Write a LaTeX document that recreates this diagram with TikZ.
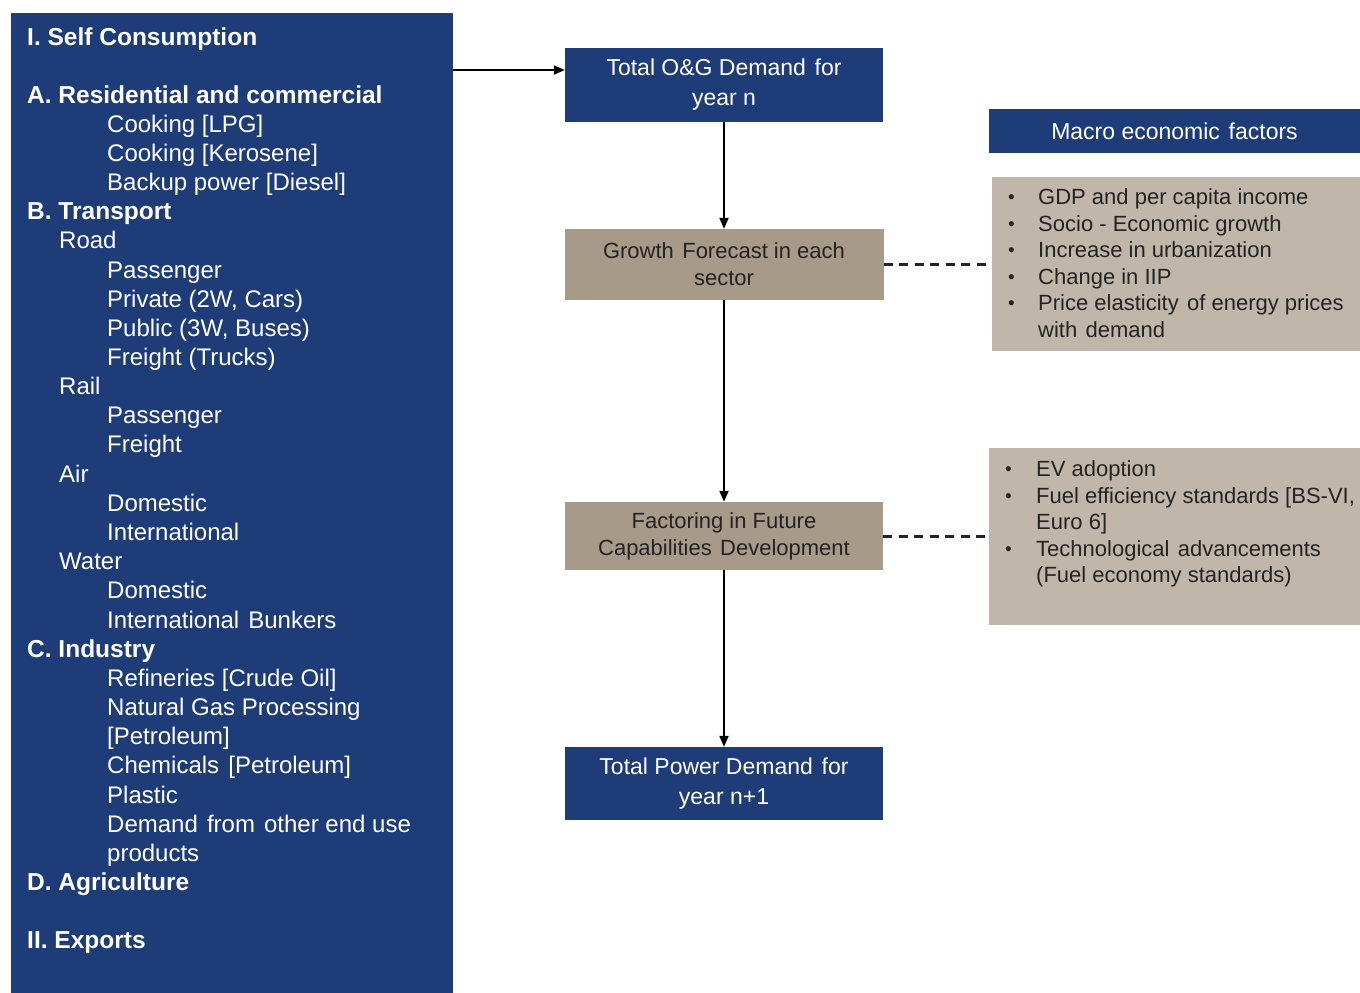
\documentclass[tikz,border=0pt]{standalone}
\usepackage{fontspec}
\setmainfont{Liberation Sans}
\usetikzlibrary{arrows.meta}
\definecolor{navy}{RGB}{30,60,120}
\definecolor{tandark}{RGB}{168,154,136}
\definecolor{tanlight}{RGB}{192,183,170}
\definecolor{ink}{RGB}{35,35,35}
\newcommand{\wsp}{\hspace{0.38em}}
\tikzset{
  panel/.style={draw=none, fill=navy, inner sep=0pt},
  bluebox/.style={draw=none, fill=navy, text=white, inner sep=0pt, align=center,
    font=\fontsize{23}{30}\selectfont},
  tanbox/.style={draw=none, fill=tandark, text=ink, inner sep=0pt, align=center,
    font=\fontsize{22}{27}\selectfont},
  listbox/.style={draw=none, fill=tanlight, inner sep=0pt},
  ltxt/.style={anchor=base west, inner sep=0pt, text=white, font=\fontsize{24}{29}\selectfont},
  lbold/.style={ltxt, font=\fontsize{24.5}{29}\selectfont\bfseries},
  rtxt/.style={anchor=base west, inner sep=0pt, text=ink, font=\fontsize{22}{26}\selectfont},
  bul/.style={rtxt, font=\fontsize{19}{22}\selectfont},
  flow/.style={line width=2pt, -{Triangle[length=11pt,width=9pt]}},
  dashlink/.style={line width=3pt, dash pattern=on 9pt off 6.5pt, draw=ink}
}
\begin{document}
\begin{tikzpicture}[x=1pt,y=-1pt]
\useasboundingbox (0,0) rectangle (1360,993);
\fill[white] (0,0) rectangle (1360,993);

% left panel
\node[panel, minimum width=442pt, minimum height=980pt] (left) at (232,503) {};

\foreach \t/\x/\y [count=\i] in {
  {Cooking [LPG]}/107/124, {Cooking [Kerosene]}/107/153, {Backup power [Diesel]}/107/182,
  {Road}/59/240, {Passenger}/107/270, {Private (2W, Cars)}/107/299, {Public (3W, Buses)}/107/328,
  {Freight (Trucks)}/107/357, {Rail}/59/386, {Passenger}/107/415, {Freight}/107/444,
  {Air}/59/474, {Domestic}/107/503, {International}/107/532, {Water}/59/561,
  {Domestic}/107/590, {International\wsp Bunkers}/107/620, {Refineries [Crude Oil]}/107/678,
  {Natural Gas Processing}/107/707, {[Petroleum]}/107/736, {Chemicals\wsp [Petroleum]}/107/765,
  {Plastic}/107/795, {Demand\wsp from\wsp other end use}/107/824, {products}/107/853}
  \node[ltxt] (lt\i) at (\x,\y+8) {\t};

\foreach \t/\y [count=\i] in {
  {I. Self Consumption}/37, {A. Residential and commercial}/95, {B. Transport}/211,
  {C. Industry}/649, {D. Agriculture}/882, {II. Exports}/940}
  \node[lbold] (lb\i) at (27,\y+8) {\t};

% flow boxes
\node[bluebox, minimum width=318pt, minimum height=74pt] (b1) at (724,85)
  {Total O\&G Demand\wsp for\\year n};
\node[tanbox, minimum width=319pt, minimum height=71pt] (b2) at (724,264.5)
  {Growth\wsp Forecast in each\\sector};
\node[tanbox, minimum width=318pt, minimum height=68pt] (b3) at (724,536)
  {Factoring in Future\\Capabilities\wsp Development};
\node[bluebox, minimum width=318pt, minimum height=73pt] (b4) at (724,783.5)
  {Total Power Demand\wsp for\\year n+1};

% right side
\node[bluebox, minimum width=371pt, minimum height=44pt, font=\fontsize{23}{26}\selectfont]
  (mh) at (1174.5,131) {Macro economic\wsp factors};
\node[listbox, minimum width=368pt, minimum height=174pt] (m1) at (1176,264) {};
\node[listbox, minimum width=371pt, minimum height=177pt] (m2) at (1174.5,536.5) {};

\foreach \t/\y [count=\i] in {
  {GDP and per capita income}/197, {Socio - Economic growth}/224,
  {Increase in urbanization}/250, {Change in IIP}/277,
  {Price elasticity\wsp of energy prices}/303}
  {\node[rtxt] (ma\i) at (1038,\y+7.5) {\t};
   \node[bul] (mb\i) at (1008,\y+6.5) {•};}
\node[rtxt] (ma6) at (1038,330+7.5) {with\wsp demand};

\foreach \t/\y [count=\i] in {
  {EV adoption}/469, {Fuel efficiency standards [BS-VI,}/496,
  {Technological\wsp advancements}/549}
  {\node[rtxt] (fa\i) at (1036,\y+7.5) {\t};
   \node[bul] (fb\i) at (1005,\y+6.5) {•};}
\node[rtxt] (fa4) at (1036,522+7.5) {Euro 6]};
\node[rtxt] (fa5) at (1036,575+7.5) {(Fuel economy standards)};

% connectors
\coordinate (lout) at (453,70);
\draw[flow] (lout) -- (b1.west |- lout);
\draw[flow] (b1.south) -- (b2.north);
\draw[flow] (b2.south) -- (b3.north);
\draw[flow] (b3.south) -- (b4.north);
\draw[dashlink] (b2.east) -- (b2.east -| m1.west);
\draw[dashlink] (b3.east) -- (b3.east -| m2.west);
\end{tikzpicture}
\end{document}
